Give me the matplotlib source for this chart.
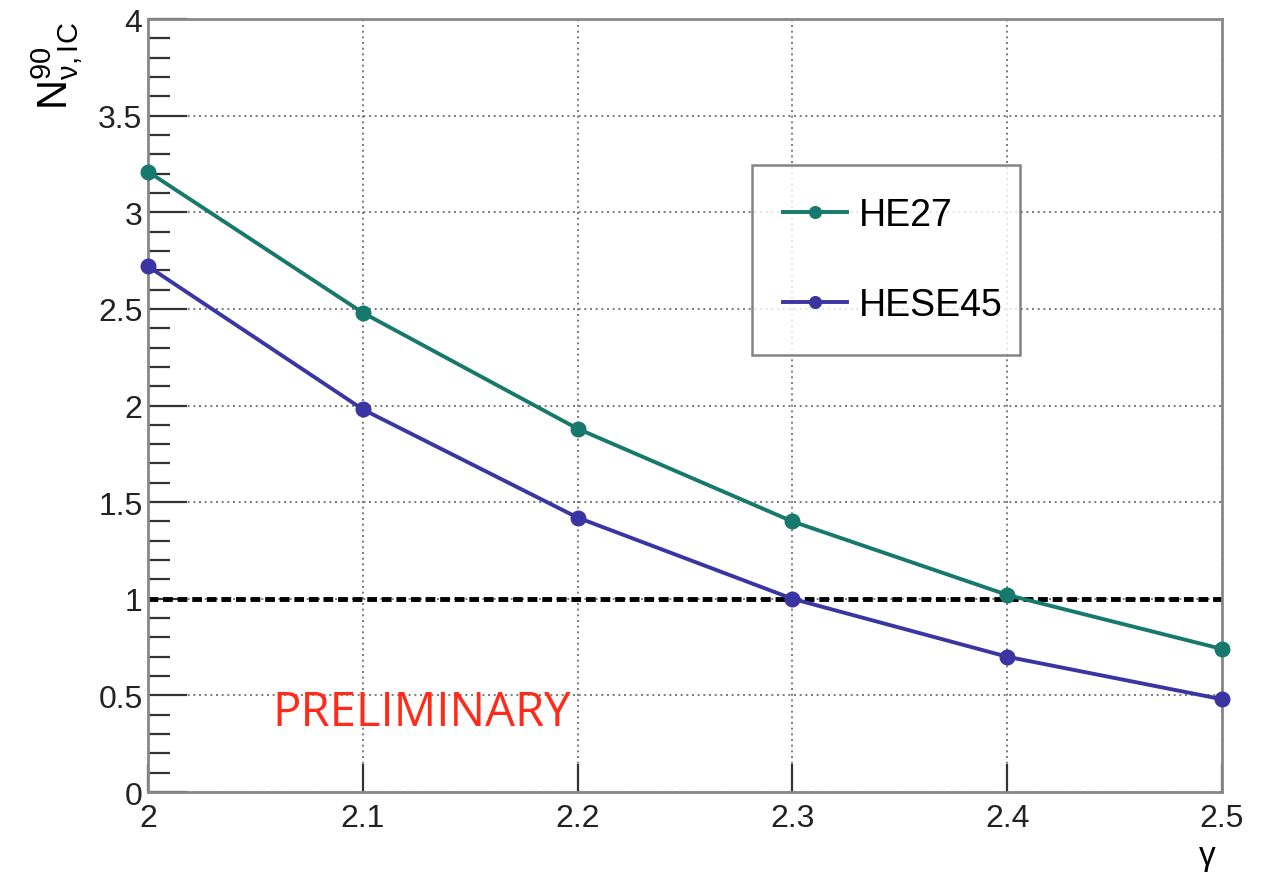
import numpy as np
import matplotlib.pyplot as plt
from matplotlib.ticker import MultipleLocator, FormatStrFormatter

plt.rcParams['font.family'] = ['Liberation Sans', 'DejaVu Sans']
plt.rcParams['mathtext.fontset'] = 'custom'
plt.rcParams['mathtext.rm'] = 'Liberation Sans'
plt.rcParams['mathtext.it'] = 'Liberation Sans'

# data
gamma = [2.0, 2.1, 2.2, 2.3, 2.4, 2.5]
he27 = [3.21, 2.48, 1.88, 1.40, 1.02, 0.74]
hese45 = [2.72, 1.98, 1.42, 1.00, 0.70, 0.48]
ref_level = 1.0

c_he27 = '#17786c'
c_hese = '#3a35a3'

fig = plt.figure(figsize=(12.72, 8.78), dpi=100)
ax = fig.add_axes([0.1164, 0.0968, 0.8443, 0.8804])

ax.grid(True, color='#666666', linestyle=(0, (1.2, 2.2)), linewidth=1.2)
ax.axhline(ref_level, color='black', linestyle=(0, (2.0, 1.0)), linewidth=3.5, zorder=2)

ax.plot(gamma, he27, color=c_he27, lw=2.8, marker='o', ms=10.5, label='HE27', zorder=3, clip_on=False)
ax.plot(gamma, hese45, color=c_hese, lw=2.8, marker='o', ms=10.5, label='HESE45', zorder=3, clip_on=False)

ax.set_xlim(2.0, 2.5)
ax.set_ylim(0, 4)
ax.xaxis.set_major_locator(MultipleLocator(0.1))
ax.yaxis.set_major_locator(MultipleLocator(0.5))
ax.yaxis.set_minor_locator(MultipleLocator(0.1))
ax.xaxis.set_major_formatter(FormatStrFormatter('%g'))
ax.yaxis.set_major_formatter(FormatStrFormatter('%g'))
ax.tick_params(axis='both', which='both', direction='in', labelsize=23, colors='#333333',
               labelcolor='#222222', width=1.6)
ax.tick_params(axis='y', which='major', length=28, pad=4)
ax.tick_params(axis='y', which='minor', length=16)
ax.tick_params(axis='x', which='major', length=20, pad=8)
for s in ax.spines.values():
    s.set_color('#888888')
    s.set_linewidth(2.0)

leg = ax.legend(loc='upper left', bbox_to_anchor=(0.562, 0.560, 0.25, 0.251), mode='expand',
                fontsize=27, frameon=True, fancybox=False, edgecolor='#666666',
                labelspacing=1.45, handlelength=1.7, handletextpad=0.3, borderaxespad=0,
                borderpad=0.85, markerscale=0.8)
leg.get_frame().set_linewidth(1.8)

ax.text(2.058, 0.415, 'PRELIMINARY', color='#ff2a1a', fontsize=34, family='Open Sans',
        va='center', ha='left')

fig.text(0.045, 0.975, r'$\mathrm{N}^{90}_{\nu,\mathrm{IC}}$', rotation=90, fontsize=30,
         va='top', ha='center')
fig.text(0.949, 0.022, r'$\gamma$', fontsize=24, ha='center', va='center')

fig.savefig('out.png', dpi=100)
